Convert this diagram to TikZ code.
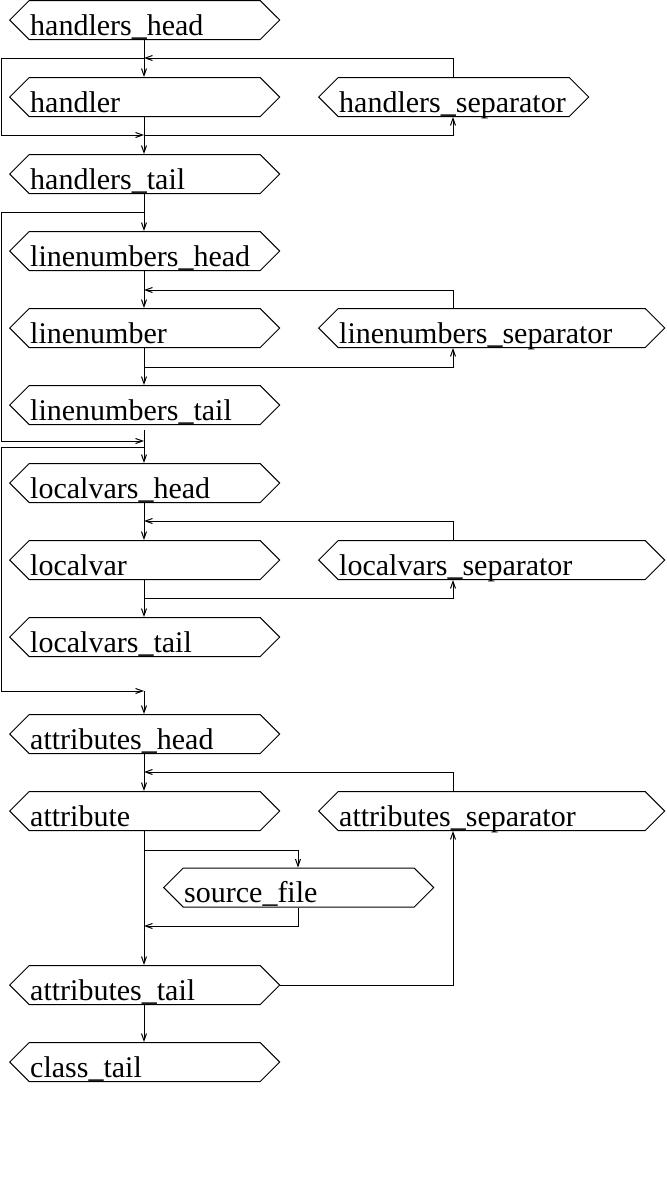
\documentclass[tikz,border=0pt]{standalone}
\usepackage{fontspec}
\setmainfont{Liberation Serif}
\usetikzlibrary{shapes.symbols,arrows.meta}
\tikzset{
    >={Straight Barb[length=3.5pt,width=2.5pt]}, % thin open tip
    % pointed box, left aligned text
    rulebox/.style={signal, signal to=west and east, signal pointer angle=90,
        draw=black, line width=0.5pt, anchor=west, align=left,
        text width=114.5pt, inner xsep=0.5pt, inner ysep=0pt,
        text height=17.25pt, text depth=2.25pt,
        font=\fontsize{15pt}{18pt}\selectfont},
    widebox/.style={rulebox, text width=152.5pt},
    link/.style={->, line width=0.5pt, draw=black},
    plainlink/.style={line width=0.5pt, draw=black}
}
\begin{document}
\begin{tikzpicture}[x=0.5pt, y=-0.5pt]
  \useasboundingbox (0,0) rectangle (666,1195);

  % columns of the connectors
  \coordinate (ex) at (1,0);
  \coordinate (lx) at (144,0);
  \coordinate (sx) at (298,0);
  \coordinate (rx) at (453,0);

  % handlers
  \node[rulebox] (hh) at (9,20) {handlers\_head};
  \node[rulebox] (hd) at (9,97) {handler};
  \node[rulebox] (hs) at (318,97) {handlers\_separator};
  \node[rulebox] (ht) at (9,174) {handlers\_tail};

  % linenumbers
  \node[rulebox] (lh) at (9,251) {linenumbers\_head};
  \node[rulebox] (ln) at (9,328) {linenumber};
  \node[widebox] (ls) at (318,328) {linenumbers\_separator};
  \node[rulebox] (lt) at (9,405) {linenumbers\_tail};

  % localvars
  \node[rulebox] (vh) at (9,483) {localvars\_head};
  \node[rulebox] (vv) at (9,560) {localvar};
  \node[widebox] (vs) at (318,560) {localvars\_separator};
  \node[rulebox] (vt) at (9,637) {localvars\_tail};

  % attributes
  \node[rulebox] (ah) at (9,734) {attributes\_head};
  \node[rulebox] (at) at (9,811) {attribute};
  \node[widebox] (as) at (318,811) {attributes\_separator};
  \node[rulebox] (sf) at (163,887.5) {source\_file};
  \node[rulebox] (atl) at (9,985) {attributes\_tail};
  \node[rulebox] (ct) at (9,1062) {class\_tail};

  % junctions on the main line
  \coordinate (j1) at (144,58);
  \coordinate (j2) at (144,135);
  \coordinate (j3) at (144,212);
  \coordinate (j4) at (144,441);
  \coordinate (j5) at (144,290);
  \coordinate (j6) at (144,367);
  \coordinate (j7) at (144,447);
  \coordinate (j8) at (144,691);
  \coordinate (j9) at (144,521);
  \coordinate (j10) at (144,598);
  \coordinate (j11) at (144,772);
  \coordinate (j12) at (144,850);
  \coordinate (j13) at (144,926);

  % handlers loop
  \draw[link] (hh.south -| lx) -- (hd.north -| lx);
  \draw[link] (hs.north -| rx) |- (j1);
  \draw[link] (j1) -- (j1 -| ex) |- (j2);
  \draw[link] (j2) -| (hs.south -| rx);
  \draw[link] (hd.south -| lx) -- (ht.north -| lx);

  % linenumbers loop
  \draw[link] (ht.south -| lx) -- (lh.north -| lx);
  \draw[link] (j3) -- (j3 -| ex) |- (j4);
  \draw[link] (lh.south -| lx) -- (ln.north -| lx);
  \draw[link] (ls.north -| rx) |- (j5);
  \draw[link] (ln.south -| lx) -- (lt.north -| lx);
  \draw[link] (j6) -| (ls.south -| rx);
  \draw[link, shorten <=2.5pt] (lt.south -| lx) -- (vh.north -| lx);

  % localvars loop
  \draw[link] (j7 -| lx) -- (j7 -| ex) |- (j8);
  \draw[link] (vh.south -| lx) -- (vv.north -| lx);
  \draw[link] (vs.north -| rx) |- (j9);
  \draw[link] (vv.south -| lx) -- (vt.north -| lx);
  \draw[link] (j10) -| (vs.south -| rx);
  \draw[link] (j8) -- (ah.north -| lx);

  % attributes loop
  \draw[link] (ah.south -| lx) -- (at.north -| lx);
  \draw[link] (as.north -| rx) |- (j11);
  \draw[link] (at.south -| lx) -- (atl.north -| lx);
  \draw[link] (j12) -| (sf.north -| sx);
  \draw[link] (sf.south -| sx) |- (j13);
  \draw[link] (atl.east) -| (as.south -| rx);
  \draw[link] (atl.south -| lx) -- (ct.north -| lx);

\end{tikzpicture}
\end{document}
